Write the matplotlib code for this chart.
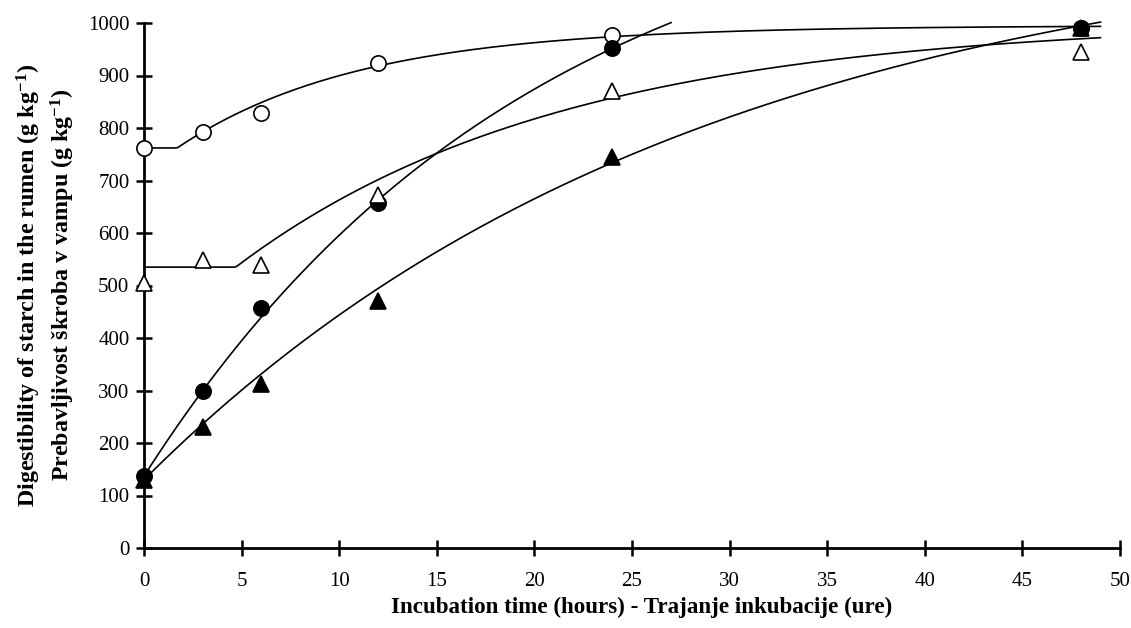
import numpy as np
import matplotlib
matplotlib.use("Agg")
import matplotlib.pyplot as plt

plt.rcParams['font.family'] = ['Liberation Serif', 'DejaVu Serif']
plt.rcParams['mathtext.fontset'] = 'custom'
plt.rcParams['mathtext.rm'] = 'Liberation Serif:bold'
plt.rcParams['mathtext.default'] = 'rm'

# Observed data (incubation hours)
hours = [0, 3, 6, 12, 24, 48]
open_circle = [762, 793, 828, 923, 978, 990]
filled_circle = [137, 300, 458, 658, 952, 990]
open_triangle = [505, 548, 540, 672, 870, 945]
filled_triangle = [130, 230, 312, 470, 745, 990]

# Fitted curve parameters: (start value, extent, rate, lag, end time)
fit_open_circle = (762, 233, 0.1077, 1.7, 49)
fit_filled_circle = (137, 1166, 0.05, 0.0, 27)
fit_open_triangle = (535, 470, 0.06, 4.7, 49)
fit_filled_triangle = (130, 1063, 0.035, 0.0, 49)

xlabel = 'Incubation time (hours) - Trajanje inkubacije (ure)'
ylabel = ('Digestibility of starch in the rumen (g kg$^{-1}$)\n'
          'Prebavljivost škroba v vampu (g kg$^{-1}$)')


def curve(params):
    a, b, c, lag, tend = params
    t = np.linspace(0, tend, 400)
    y = a + b * (1 - np.exp(-c * np.clip(t - lag, 0, None)))
    return t, y


W, H = 1131, 628
fig = plt.figure(figsize=(W / 100, H / 100), dpi=100)
ax = fig.add_axes([144 / W, 80 / H, (1120 - 144) / W, (548 - 23) / H])

for params in (fit_open_circle, fit_filled_circle, fit_open_triangle, fit_filled_triangle):
    t, y = curve(params)
    ax.plot(t, y, color='black', lw=1.2, clip_on=False, zorder=2)

ms = 11
ax.plot(hours, open_circle, 'o', ms=ms, mfc='white', mec='black', mew=1.2, ls='none', clip_on=False, zorder=3)
ax.plot(hours, filled_circle, 'o', ms=ms, mfc='black', mec='black', mew=1.2, ls='none', clip_on=False, zorder=3)
ax.plot(hours, open_triangle, '^', ms=ms, mfc='white', mec='black', mew=1.2, ls='none', clip_on=False, zorder=3)
ax.plot(hours, filled_triangle, '^', ms=ms, mfc='black', mec='black', mew=1.2, ls='none', clip_on=False, zorder=4)

ax.set_xlim(0, 50)
ax.set_ylim(0, 1000)
ax.set_xticks(range(0, 51, 5))
ax.set_yticks(range(0, 1001, 100))

for s in ('top', 'right'):
    ax.spines[s].set_visible(False)
for s in ('left', 'bottom'):
    ax.spines[s].set_linewidth(2.0)

ax.tick_params(axis='both', direction='inout', length=11, width=1.8, labelsize=15)
ax.tick_params(axis='y', pad=5)
ax.tick_params(axis='x', pad=12)

fig.text(642 / W, 1 - 607 / H, xlabel, fontsize=16.6, fontweight='bold',
         ha='center', va='center')
fig.text(46 / W, 1 - 285 / H, ylabel, fontsize=17.3, fontweight='bold',
         rotation=90, ha='center', va='center', multialignment='center',
         linespacing=1.3)

fig.savefig('out.png', dpi=100)
